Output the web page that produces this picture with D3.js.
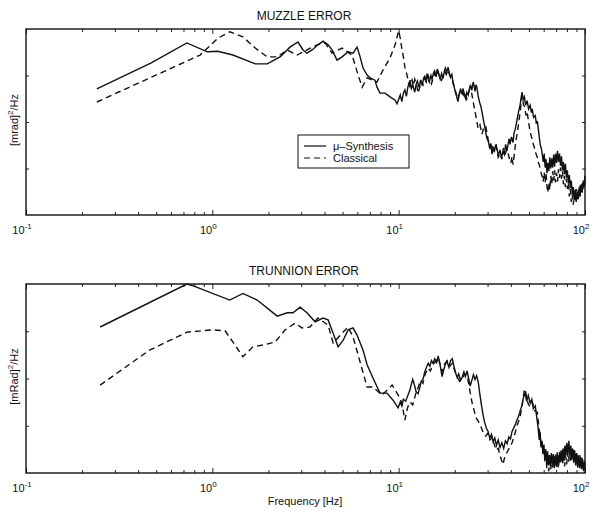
<!DOCTYPE html>
<html>
<head>
<meta charset="utf-8">
<script src="https://cdn.jsdelivr.net/npm/d3@7"></script>
<style>
    body { margin: 0; background: #fff; }
    text { font-family: "Liberation Sans", Arial, sans-serif; fill: #111; }
    .frame { fill: none; stroke: #111; stroke-width: 1.4; }
    .tick line { stroke: #222; }
    .domain { display: none; }
</style>
</head>
<body>
<div id="chart"></div>
<script>
// frequency [Hz], PSD [dB rel. panel max]
const muzzleMu = [
    [0.24,-12.9],[0.47,-7.3],[0.73,-3.0],[0.94,-4.9],[1.07,-4.8],[1.29,-5.6],[1.70,-7.5],[1.97,-7.5],
    [2.31,-6.0],[2.61,-3.9],[2.88,-2.8],[3.07,-4.5],[3.22,-5.2],[3.43,-4.5],[3.69,-3.4],[3.93,-2.6],
    [4.18,-3.4],[4.39,-4.5],[4.67,-6.7],[4.97,-6.0],[5.35,-4.9],[5.69,-5.2],[5.98,-3.9],[6.21,-6.0],
    [6.44,-8.4],[6.77,-9.9],[7.02,-10.5],[7.46,-11.0],[7.65,-12.5],[7.94,-13.8],[8.45,-13.8],[8.99,-14.6],
    [9.57,-15.3],[9.80,-16.1],
    [10.2,-14.2],[10.4,-15.6],[10.6,-13.8],[10.8,-13.1],[11.0,-14.5],[11.2,-12.5],[11.4,-11.6],[11.5,-11.0],
    [11.7,-12.8],[11.9,-12.0],[12.2,-13.6],[12.4,-12.0],[12.6,-11.2],[12.9,-12.6],[13.1,-11.0],[13.4,-12.2],
    [13.6,-10.6],[13.8,-10.2],[14.0,-11.4],[14.2,-9.6],[14.4,-10.8],[14.6,-11.4],[14.9,-10.0],[15.1,-10.8],
    [15.4,-9.4],[15.6,-9.0],[15.9,-10.2],[16.1,-8.6],[16.4,-9.8],[16.7,-10.8],[17.0,-9.6],[17.3,-10.6],
    [17.6,-9.0],[17.8,-8.4],[18.1,-9.4],[18.4,-8.2],[18.7,-9.4],[19.0,-10.4],[19.3,-9.8],[19.6,-11.8],
    [19.9,-12.6],[20.2,-13.8],[20.5,-14.6],[20.8,-15.6],[21.1,-14.2],[21.5,-12.8],[21.8,-14.0],[22.2,-12.8],
    [22.5,-14.2],[22.9,-15.0],[23.2,-13.6],[23.6,-14.2],[24.0,-12.8],[24.3,-12.0],[24.7,-13.2],[25.1,-11.4],
    [25.4,-12.2],[25.7,-13.4],[26.0,-12.0],[26.3,-12.6],[26.7,-14.4],[27.2,-15.8],[27.6,-16.6],[28.0,-17.8],
    [28.4,-19.2],[28.9,-20.8],[29.3,-22.2],[29.8,-23.6],[30.3,-24.2],[30.8,-25.6],[31.2,-24.6],[31.7,-26.9],
    [32.2,-25.4],[32.7,-26.2],[33.2,-24.8],[33.7,-25.8],[34.3,-27.2],[35.0,-26.0],[35.6,-27.6],[36.3,-26.4],
    [36.9,-27.0],[37.5,-24.8],[38.1,-26.2],[38.6,-25.0],[39.1,-23.6],[39.6,-24.8],[40.3,-23.2],[41.1,-24.4],
    [41.6,-22.4],[42.2,-21.6],[42.8,-20.4],[43.3,-19.2],[44.0,-17.8],[44.9,-16.2],[45.4,-14.8],[46.0,-13.6],
    [46.6,-15.2],[47.3,-14.6],[48.0,-16.4],[48.9,-15.4],[49.8,-17.2],[50.8,-16.4],[51.5,-18.0],[52.1,-17.2],
    [53.0,-19.0],[54.1,-18.6],[54.8,-20.4],[55.5,-19.8],[56.5,-22.4],[57.5,-24.8],[58.5,-26.0],
    [59.7,-28.6],[60.4,-26.8],[61.1,-29.8],[61.8,-28.0],[62.5,-31.0],[63.2,-28.8],[64.0,-30.6],[64.7,-27.6],
    [65.5,-30.0],[66.3,-27.8],[67.1,-29.8],[67.9,-27.0],[68.7,-29.6],[69.5,-26.8],[70.4,-28.8],[71.2,-26.2],
    [72.1,-28.6],[73.0,-26.8],[73.9,-29.4],[74.8,-27.4],[75.7,-30.4],[76.6,-28.6],[77.5,-31.2],[78.5,-29.0],
    [79.4,-32.0],[80.4,-30.4],[81.4,-33.2],[82.4,-31.4],[83.4,-34.2],[84.4,-32.6],[85.5,-35.6],[86.5,-34.0],
    [87.6,-36.8],[88.6,-34.6],[89.7,-37.2],[90.8,-35.0],[92.0,-36.6],[93.1,-34.0],[94.2,-36.0],[95.4,-33.4],
    [96.6,-35.2],[97.8,-32.6],[99.0,-34.0],[100,-31.6]
];
const muzzleCl = [
    [0.24,-15.7],[0.86,-5.6],[1.07,-2.0],[1.24,-0.6],[1.46,-1.7],[1.70,-4.1],[1.97,-6.0],[2.23,-6.0],
    [2.52,-4.5],[2.85,-5.6],[3.22,-4.5],[3.65,-3.4],[4.03,-3.0],[4.39,-5.2],[4.97,-4.1],[5.62,-5.6],
    [5.83,-7.7],[6.06,-9.9],[6.37,-12.5],[6.77,-10.5],[7.65,-11.4],[8.25,-8.8],[8.99,-6.2],[9.57,-3.4],
    [10.0,-0.4],[10.2,-2.0],[10.4,-4.2],[10.6,-6.0],[10.8,-8.2],[11.1,-10.0],[11.3,-11.6],[11.5,-12.4],
    [11.8,-11.0],[12.0,-12.2],[12.2,-10.8],[12.5,-12.0],[12.7,-13.8],[13.0,-12.4],[13.2,-11.2],[13.5,-12.0],
    [13.8,-10.6],[14.1,-11.4],[14.4,-10.0],[14.7,-11.0],[15.0,-11.8],[15.3,-10.6],[15.6,-9.6],[16.0,-10.4],
    [16.3,-9.2],[16.6,-10.2],[17.0,-11.0],[17.3,-10.2],[17.7,-9.2],[18.0,-9.8],[18.4,-8.8],[18.8,-10.0],
    [19.2,-10.6],[19.6,-11.4],[20.0,-12.8],[20.4,-14.0],[20.8,-15.0],[21.2,-13.8],[21.7,-13.2],[22.2,-14.2],
    [22.7,-13.4],[23.2,-15.0],[23.6,-14.0],[24.1,-12.8],[24.6,-13.6],[25.1,-15.6],[25.7,-17.8],[26.2,-19.6],
    [26.7,-21.4],[27.3,-20.6],[28.0,-22.6],[28.6,-21.2],[29.3,-20.8],[30.1,-23.4],[30.9,-25.6],[31.7,-24.6],
    [32.5,-26.4],[33.4,-25.2],[34.2,-27.6],[35.0,-26.8],[35.8,-28.0],[36.5,-25.6],[37.3,-26.8],[38.2,-25.8],
    [39.1,-27.6],[40.0,-28.8],[40.6,-27.4],[41.1,-29.2],[41.8,-26.8],[42.5,-24.2],[43.2,-22.6],[43.8,-21.0],
    [44.8,-18.0],[46.0,-14.4],[46.7,-16.2],[47.5,-16.8],[48.2,-18.6],[48.9,-17.8],[49.8,-20.0],[50.8,-22.2],
    [51.8,-23.4],[52.8,-24.8],[53.6,-25.6],[54.5,-26.8],[55.3,-27.4],[56.1,-28.6],[57.0,-29.4],[58.0,-30.8],
    [58.8,-31.6],
    [59.7,-32.8],[60.4,-30.8],[61.1,-33.0],[61.8,-31.0],[62.5,-33.8],[63.2,-35.2],[64.0,-33.0],[64.7,-34.6],
    [65.5,-31.6],[66.3,-33.4],[67.1,-30.6],[67.9,-32.6],[68.7,-30.4],[69.5,-33.0],[70.4,-31.0],[71.2,-32.8],
    [72.1,-30.2],[73.0,-32.0],[73.9,-29.8],[74.8,-32.2],[75.7,-30.6],[76.6,-33.4],[77.5,-31.6],[78.5,-34.0],
    [79.4,-32.2],[80.4,-34.4],[81.4,-33.0],[82.4,-36.0],[83.4,-34.4],[84.4,-37.2],[85.5,-35.6],[86.5,-37.8],
    [87.6,-35.0],[88.6,-36.8],[89.7,-34.4],[90.8,-36.6],[92.0,-34.6],[93.1,-36.0],[94.2,-33.6],[95.4,-35.2],
    [96.6,-33.0],[97.8,-34.6],[99.0,-32.2],[100,-33.4]
];
const trunnionMu = [
    [0.25,-9.1],[0.73,0],[0.79,-0.4],[1.24,-3.4],[1.46,-2.0],[1.74,-3.4],[2.23,-6.8],[2.52,-6.1],
    [2.71,-6.1],[2.96,-4.9],[3.22,-6.1],[3.56,-8.0],[3.93,-7.2],[4.18,-7.6],[4.45,-10.4],[4.73,-13.3],
    [5.04,-11.9],[5.35,-9.7],[5.69,-9.3],[5.98,-10.8],[6.44,-14.0],[6.77,-17.1],[7.28,-19.9],[7.94,-23.1],
    [8.66,-23.1],[9.33,-24.6],[9.93,-26.2],
    [10.2,-25.0],[10.4,-25.8],[10.6,-24.4],[10.9,-24.8],[11.2,-23.6],[11.5,-22.4],[11.7,-21.2],[11.9,-20.2],
    [12.2,-21.6],[12.4,-22.8],[12.7,-23.2],[13.0,-21.8],[13.2,-20.6],[13.5,-20.2],[13.8,-18.6],[14.1,-17.6],
    [14.4,-16.8],[14.7,-17.4],[15.0,-16.2],[15.3,-16.8],[15.6,-15.8],[16.0,-16.6],[16.3,-15.2],[16.7,-17.2],
    [17.1,-19.6],[17.5,-18.0],[17.8,-17.0],[18.2,-16.4],[18.6,-17.6],[19.0,-16.2],[19.4,-15.8],[19.8,-17.4],
    [20.2,-18.8],[20.6,-19.8],[21.0,-19.0],[21.5,-20.4],[21.9,-19.8],[22.4,-18.6],[22.8,-19.6],[23.3,-18.4],
    [23.8,-20.2],[24.2,-21.6],[24.7,-20.4],[25.2,-19.2],[25.7,-20.2],[26.2,-19.4],[26.7,-20.6],[27.2,-23.0],
    [27.8,-25.6],[28.4,-27.8],[29.0,-29.4],[29.6,-30.6],[30.2,-31.2],[30.8,-32.6],[31.5,-31.8],[32.1,-33.4],
    [32.8,-32.6],[33.5,-34.2],[34.2,-33.0],[35.0,-34.6],[35.8,-33.6],[36.6,-34.8],[37.4,-33.2],[38.2,-33.8],
    [39.0,-32.4],[39.8,-32.8],[40.6,-31.2],[41.5,-30.4],[42.4,-29.6],[43.3,-28.6],[44.2,-27.8],[44.9,-26.8],
    [45.8,-25.8],[46.6,-24.2],[47.7,-23.0],[48.6,-24.8],[49.6,-23.6],[50.8,-25.2],[51.8,-24.4],[52.8,-26.4],
    [54.1,-25.8],[55.0,-28.0],
    [56.1,-30.6],[56.8,-33.0],[57.4,-31.4],[58.1,-34.6],[58.8,-33.2],[59.5,-36.0],[60.2,-34.0],[60.9,-37.2],
    [61.6,-35.0],[62.3,-37.8],[63.0,-35.4],[63.8,-38.4],[64.5,-36.2],[65.3,-38.6],[66.0,-35.8],[66.8,-38.2],
    [67.6,-36.0],[68.4,-39.0],[69.2,-36.4],[70.0,-38.4],[70.9,-35.6],[71.7,-38.8],[72.6,-36.2],[73.5,-37.8],
    [74.4,-35.2],[75.3,-37.6],[76.2,-34.8],[77.1,-37.2],[78.0,-34.2],[79.0,-36.4],[79.9,-33.6],[80.9,-36.0],
    [81.9,-33.2],[82.9,-36.4],[83.9,-34.2],[84.9,-37.2],[85.9,-34.8],[87.0,-37.8],[88.0,-35.2],[89.1,-38.4],
    [90.2,-35.8],[91.3,-38.8],[92.4,-36.4],[93.5,-39.0],[94.7,-36.6],[95.8,-39.2],[97.0,-37.0],[98.2,-39.6],
    [99.4,-37.4],[100,-38.6]
];
const trunnionCl = [
    [0.25,-21.4],[0.46,-14.0],[0.73,-10.2],[1.0,-9.7],[1.17,-9.9],[1.29,-12.3],[1.46,-15.4],[1.65,-13.3],
    [1.87,-12.9],[2.17,-12.3],[2.46,-9.7],[2.78,-8.3],[3.03,-9.3],[3.34,-9.1],[3.69,-7.2],[4.18,-8.7],
    [4.45,-12.5],[4.97,-10.4],[5.35,-9.1],[5.69,-11.2],[6.21,-16.5],[6.77,-21.8],[7.28,-21.8],[8.15,-23.5],
    [9.22,-21.4],[9.80,-23.1],
    [10.1,-24.0],[10.4,-25.2],[10.6,-27.0],[10.8,-28.8],[11.0,-27.2],[11.2,-26.0],[11.5,-25.0],[11.9,-25.6],
    [12.2,-24.0],[12.5,-22.4],[12.7,-22.0],[13.1,-20.4],[13.5,-21.0],[13.9,-19.0],[14.4,-17.8],[14.8,-18.4],
    [15.3,-17.0],[15.8,-16.4],[16.3,-15.6],[16.7,-17.0],[17.1,-18.6],[17.6,-17.0],[18.2,-16.2],[18.8,-17.4],
    [19.4,-16.8],[20.0,-18.4],[20.6,-19.6],[21.2,-20.6],[21.9,-20.0],[22.6,-19.0],[23.3,-19.6],[23.8,-21.2],
    [24.2,-23.0],[24.8,-25.2],[25.5,-27.0],[26.1,-28.4],[26.7,-29.0],[27.5,-30.0],[28.4,-31.4],[29.3,-32.2],
    [30.1,-31.6],[30.9,-33.0],[31.8,-32.4],[32.6,-34.0],[33.4,-35.2],[34.2,-34.8],[35.2,-36.6],[36.3,-38.2],
    [37.2,-36.4],[38.2,-35.6],[39.4,-34.6],[40.6,-33.6],[41.8,-32.0],[43.2,-30.0],[44.9,-28.0],[46.2,-25.2],
    [47.1,-22.8],[47.7,-22.2],[48.6,-24.0],[49.6,-25.4],[50.8,-26.0],[52.2,-25.0],[53.6,-26.8],[55.5,-27.2],
    [56.5,-30.0],
    [57.5,-32.4],[58.2,-34.6],[58.9,-33.4],[59.6,-36.2],[60.3,-35.0],[61.0,-37.8],[61.7,-36.4],[62.4,-39.0],
    [63.2,-37.6],[63.9,-39.6],[64.7,-37.4],[65.5,-39.2],[66.3,-36.8],[67.1,-38.8],[67.9,-36.4],[68.7,-38.6],
    [69.6,-36.0],[70.4,-38.8],[71.3,-36.2],[72.2,-38.4],[73.1,-35.4],[74.0,-37.8],[74.9,-35.8],[75.8,-38.2],
    [76.8,-36.0],[77.7,-38.6],[78.7,-36.4],[79.7,-38.2],[80.7,-35.8],[81.7,-37.6],[82.7,-35.0],[83.8,-37.4],
    [84.8,-34.6],[85.9,-36.8],[87.0,-35.0],[88.1,-37.6],[89.2,-35.6],[90.3,-38.0],[91.4,-36.0],[92.6,-38.4],
    [93.7,-36.2],[94.9,-38.6],[96.1,-36.8],[97.3,-39.0],[98.5,-37.6],[99.7,-39.6],[100,-39.0]
];
const xTickExp = [-1, 0, 1, 2];
const panels = [
    { title: "MUZZLE ERROR", unit: "[mrad]", mu: muzzleMu, cl: muzzleCl, top: 29, bottom: 215, legend: true },
    { title: "TRUNNION ERROR", unit: "[mRad]", mu: trunnionMu, cl: trunnionCl, top: 284, bottom: 473, legend: false }
];

const W = 596, H = 513;
const left = 26, right = 585;

const svg = d3.select("#chart").append("svg")
    .attr("width", W)
    .attr("height", H);

const x = d3.scaleLog().domain([0.1, 100]).range([left, right]);
const minorTicks = [];
[0.1, 1, 10].forEach(d => { for (let k = 1; k <= 9; k++) minorTicks.push(d * k); });
minorTicks.push(100);

panels.forEach((p, i) => {
    const y = d3.scaleLinear().domain([-40, 0]).range([p.bottom, p.top]);
    const g = svg.append("g");

    // x ticks, pointing inward on bottom and top
    const isDecade = d => Math.abs(Math.log10(d) - Math.round(Math.log10(d))) < 1e-6;
    g.append("g")
        .attr("transform", `translate(0,${p.bottom})`)
        .call(d3.axisBottom(x).tickValues(minorTicks).tickFormat("").tickSizeOuter(0))
        .selectAll(".tick line").attr("y2", d => isDecade(d) ? -5 : -3);
    g.append("g")
        .attr("transform", `translate(0,${p.top})`)
        .call(d3.axisTop(x).tickValues(minorTicks).tickFormat("").tickSizeOuter(0))
        .selectAll(".tick line").attr("y2", d => isDecade(d) ? 5 : 3);

    // y ticks (unlabelled)
    g.append("g")
        .attr("transform", `translate(${left},0)`)
        .call(d3.axisLeft(y).tickValues([-30, -20, -10]).tickFormat("").tickSizeOuter(0))
        .selectAll(".tick line").attr("x2", 3);
    g.append("g")
        .attr("transform", `translate(${right},0)`)
        .call(d3.axisRight(y).tickValues([-30, -20, -10]).tickFormat("").tickSizeOuter(0))
        .selectAll(".tick line").attr("x2", -3);

    // tick labels 10^n
    xTickExp.forEach(e => {
        const t = g.append("text")
            .attr("x", x(Math.pow(10, e)) - 4)
            .attr("y", p.bottom + 19)
            .attr("text-anchor", "middle")
            .style("font-size", "11px");
        t.append("tspan").text("10");
        t.append("tspan").attr("dy", -5).style("font-size", "8px").text(e);
    });

    // lines
    const line = d3.line()
        .x(d => x(d[0]))
        .y(d => y(Math.max(-40, Math.min(0, d[1]))));
    g.append("path")
        .datum(p.cl)
        .attr("fill", "none")
        .attr("stroke", "#111")
        .attr("stroke-width", 1.4)
        .attr("stroke-dasharray", "6,4")
        .attr("d", line);
    g.append("path")
        .datum(p.mu)
        .attr("fill", "none")
        .attr("stroke", "#111")
        .attr("stroke-width", 1.4)
        .attr("d", line);

    g.append("rect")
        .attr("class", "frame")
        .attr("x", left).attr("y", p.top)
        .attr("width", right - left).attr("height", p.bottom - p.top);

    // title
    g.append("text")
        .attr("x", 304).attr("y", p.top - 9)
        .attr("text-anchor", "middle")
        .style("font-size", "12px")
        .text(p.title);

    // y label
    const yl = g.append("text")
        .attr("transform", `translate(18,${(p.top + p.bottom) / 2 - 2}) rotate(-90)`)
        .attr("text-anchor", "middle")
        .style("font-size", "11px");
    yl.append("tspan").text(p.unit);
    yl.append("tspan").attr("dy", -5).style("font-size", "8px").text("2");
    yl.append("tspan").attr("dy", 5).text("/Hz");

    if (p.legend) {
        const lg = g.append("g").attr("transform", "translate(298,135)");
        lg.append("rect")
            .attr("width", 111).attr("height", 33)
            .attr("fill", "#fff").attr("stroke", "#111").attr("stroke-width", 1);
        const items = [["μ–Synthesis", null], ["Classical", "6,4"]];
        items.forEach((it, k) => {
            const yy = 11 + k * 12;
            lg.append("line")
                .attr("x1", 6).attr("x2", 28).attr("y1", yy).attr("y2", yy)
                .attr("stroke", "#111").attr("stroke-width", 1.2)
                .attr("stroke-dasharray", it[1]);
            lg.append("text")
                .attr("x", 35).attr("y", yy + 4)
                .style("font-size", "11px")
                .text(it[0]);
        });
    }
});

svg.append("text")
    .attr("x", 305).attr("y", 505)
    .attr("text-anchor", "middle")
    .style("font-size", "11px")
    .text("Frequency [Hz]");
</script>
</body>
</html>
